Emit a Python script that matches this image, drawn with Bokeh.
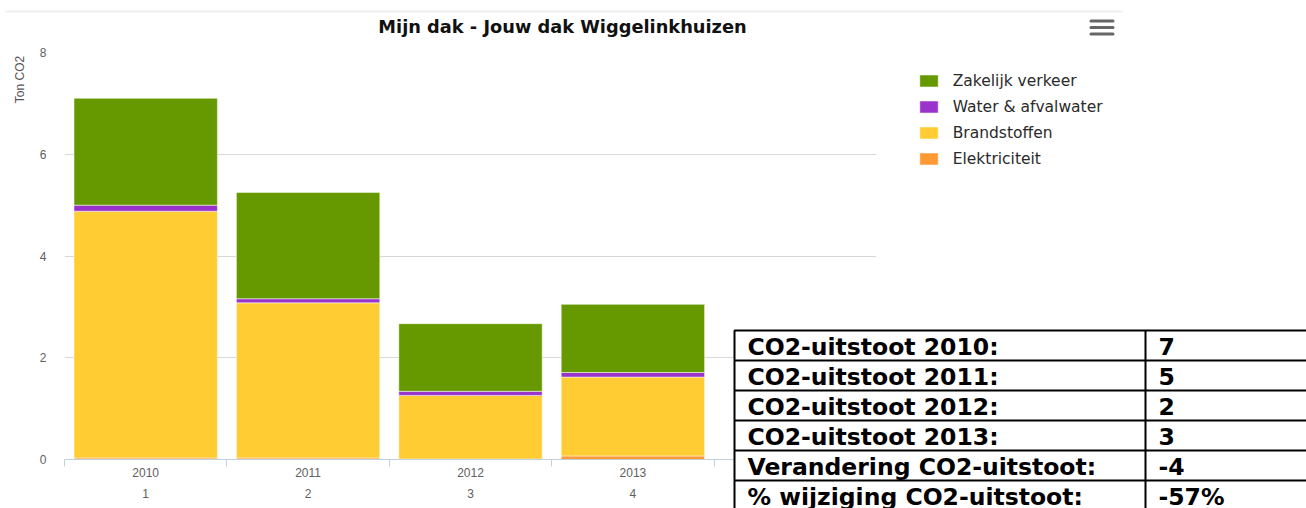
import numpy as np
from bokeh.plotting import figure
from bokeh.models import (Range1d, FixedTicker, Legend, LegendItem, ColumnDataSource, GridBox)
from bokeh.core.properties import value
from bokeh.embed import file_html
from bokeh.resources import INLINE

# ---------------- data ----------------
title_text = "Mijn dak - Jouw dak Wiggelinkhuizen"
y_title = "Ton CO2"
years = ["2010", "2011", "2012", "2013"]
periods = ["1", "2", "3", "4"]
n_slots = 5
series_names = ["Elektriciteit", "Brandstoffen", "Water & afvalwater", "Zakelijk verkeer"]
series_colors = ["#FF9933", "#FFCC33", "#9933CC", "#669900"]
elektriciteit = [0.03, 0.03, 0.01, 0.07]
brandstoffen = [4.85, 3.05, 1.25, 1.55]
water = [0.12, 0.08, 0.08, 0.09]
zakelijk = [2.10, 2.09, 1.33, 1.34]
y_ticks = [0, 2, 4, 6, 8]

table_labels = ["CO2-uitstoot 2010:", "CO2-uitstoot 2011:", "CO2-uitstoot 2012:",
                "CO2-uitstoot 2013:", "Verandering CO2-uitstoot:", "% wijziging CO2-uitstoot:"]
table_values = ["7", "5", "2", "3", "-4", "-57%"]

# ---------------- main chart ----------------
W, H = 1306, 508
FL, FR, FT, FB = 64, 876, 52, 459   # frame edges in page pixels

p = figure(width=W, height=H, x_range=Range1d(0, n_slots), y_range=Range1d(0, 8),
           output_backend="svg", toolbar_location=None,
           min_border_left=FL, min_border_right=W - FR, min_border_top=FT,
           min_border_bottom=H - FB)
p.outline_line_color = None
p.background_fill_color = "white"
p.border_fill_color = "white"

xs = np.arange(len(years)) + 0.5
source = ColumnDataSource(data={
    "x": xs,
    series_names[0]: elektriciteit,
    series_names[1]: brandstoffen,
    series_names[2]: water,
    series_names[3]: zakelijk,
})
renderers = p.vbar_stack(series_names, x="x", width=0.883, source=source,
                         fill_color=series_colors, line_color="white",
                         line_alpha=0.5, line_width=1)

p.xgrid.grid_line_color = None
p.ygrid.grid_line_color = "#d8d8d8"
p.ygrid.ticker = FixedTicker(ticks=y_ticks)

p.yaxis.ticker = FixedTicker(ticks=y_ticks)
p.yaxis.axis_line_color = None
p.yaxis.major_tick_line_color = None
p.yaxis.minor_tick_line_color = None
p.yaxis.major_label_standoff = 12
p.yaxis.major_label_text_font = "Liberation Sans"
p.yaxis.major_label_text_font_size = "12px"
p.yaxis.major_label_text_color = "#606060"

p.xaxis.ticker = FixedTicker(ticks=list(xs), minor_ticks=list(range(n_slots + 1)))
p.xaxis.major_label_overrides = {float(x): f"{yr}\n{pr}" for x, yr, pr in zip(xs, years, periods)}
p.xaxis.axis_line_color = "#C0D0E0"
p.xaxis.major_tick_line_color = None
p.xaxis.major_tick_in = 0
p.xaxis.major_tick_out = 0
p.xaxis.minor_tick_line_color = "#C0D0E0"
p.xaxis.minor_tick_in = 0
p.xaxis.minor_tick_out = 7
p.xaxis.major_label_standoff = -1
p.xaxis.major_label_text_font = "Liberation Sans"
p.xaxis.major_label_text_font_size = "12px"
p.xaxis.major_label_text_color = "#606060"
p.xaxis.major_label_text_line_height = 1.5

# ---------------- overlay (page-pixel coordinates) for title, legend, menu and table ----------------
o = figure(width=W, height=H, x_range=Range1d(0, W), y_range=Range1d(H, 0),
           output_backend="svg", toolbar_location=None, min_border=0,
           x_axis_location=None, y_axis_location=None)
o.grid.visible = False
o.outline_line_color = None
o.background_fill_alpha = 0
o.border_fill_alpha = 0

for fig in (p, o):
    if hasattr(fig, "frame_align"):
        fig.frame_align = False

# legend swatches (same styling as the bars; the swatch glyphs sit outside the view)
swatches = [o.vbar(x=[-500], top=[0], bottom=[0], width=1, fill_color=c,
                   line_color="white", line_alpha=0.5)
            for c in series_colors]
items = [LegendItem(label=name, renderers=[r]) for name, r in zip(series_names, swatches)][::-1]
legend = Legend(items=items, location=(916.7, H - 70.8 - 98), padding=0, margin=0,
                spacing=6, label_height=20, glyph_width=23, glyph_height=15,
                label_standoff=13, label_text_font="DejaVu Sans",
                label_text_font_size="15.5px", label_text_color="#2a2a2a",
                border_line_color=None, background_fill_alpha=0)
o.add_layout(legend)

# top frame line & menu icon
o.segment(x0=[5], x1=[1122], y0=[11], y1=[11], line_color="#eeeeee", line_width=2)
o.segment(x0=[1090.5] * 3, x1=[1112.5] * 3, y0=[20.5, 27, 33.5], y1=[20.5, 27, 33.5],
          line_color="#666666", line_width=3, line_cap="round")

# title and y-axis title (text is anchored on its middle)
TITLE_SIZE = 17.8
o.text(x=[562], y=[32.7 - 0.35 * TITLE_SIZE], text=[title_text], text_align="center",
       text_baseline="middle", text_font=value("DejaVu Sans"),
       text_font_size=f"{TITLE_SIZE}px", text_font_style="bold", text_color="#111111")
o.text(x=[19], y=[79], text=[y_title], angle=np.pi / 2, text_align="center",
       text_baseline="middle", text_font=value("Liberation Sans"), text_font_size="12px",
       text_color="#555555")

# table
T_LEFT, T_TOP, ROW_H, COL_X = 734, 330, 30, 1145
TABLE_SIZE = 23.5
o.quad(left=[T_LEFT], right=[1400], top=[T_TOP], bottom=[620], fill_color="white",
       line_color="black", line_width=2)
sep_y = [T_TOP + i * ROW_H for i in range(1, len(table_labels))]
o.segment(x0=[T_LEFT] * len(sep_y), x1=[1400] * len(sep_y), y0=sep_y, y1=sep_y,
          line_color="black", line_width=2)
o.segment(x0=[COL_X], x1=[COL_X], y0=[T_TOP], y1=[620], line_color="black", line_width=2)
mid_y = [T_TOP + i * ROW_H + 24.5 - 0.35 * TABLE_SIZE for i in range(len(table_labels))]
o.text(x=[747] * len(table_labels), y=mid_y, text=table_labels, text_align="left",
       text_baseline="middle", text_font=value("DejaVu Sans"),
       text_font_size=f"{TABLE_SIZE}px", text_font_style="bold", text_color="black")
o.text(x=[1158] * len(table_values), y=mid_y, text=table_values, text_align="left",
       text_baseline="middle", text_font=value("DejaVu Sans"),
       text_font_size=f"{TABLE_SIZE}px", text_font_style="bold", text_color="black")

root = GridBox(children=[(p, 0, 0), (o, 0, 0)])
open("out.html", "w").write(file_html(root, INLINE))
